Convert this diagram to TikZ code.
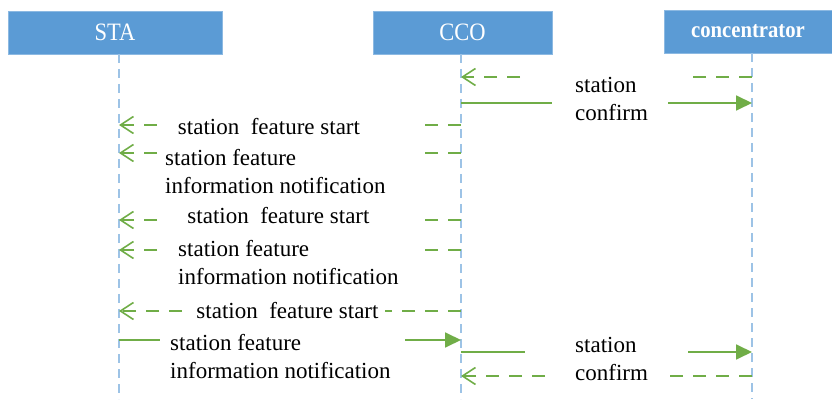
\documentclass[tikz,border=0pt]{standalone}
\usepackage{fontspec}
\setmainfont{Liberation Serif}
\newfontfamily\headfont[FakeStretch=0.9]{Liberation Serif}
\usetikzlibrary{positioning,arrows.meta,calc}

\definecolor{boxblue}{HTML}{5B9BD5}
\definecolor{lineblue}{HTML}{9DC3E6}
\definecolor{msggreen}{HTML}{70AD47}

\tikzset{
  entity/.style={fill=boxblue, draw=boxblue!70!white, line width=0.8pt, minimum height=43pt,
    text=white, font=\headfont\fontsize{25}{28}\selectfont},
  lifeline/.style={lineblue, line width=2pt, dash pattern=on 9pt off 6pt},
  reqline/.style={msggreen, line width=1.8pt, dash pattern=on 13pt off 10pt},
  ackline/.style={msggreen, line width=1.8pt},
  opentip/.style={-{Straight Barb[length=13pt,width=17pt,line width=1.6pt]}},
  filltip/.style={-{Triangle[length=16pt,width=15pt]}},
  msg/.style={font=\fontsize{23}{28}\selectfont, align=left, inner sep=0pt}
}

\begin{document}
\begin{tikzpicture}[x=1pt,y=1pt]
        \useasboundingbox (0,0) rectangle (832,399);

        % entities
        \node[entity, minimum width=214pt] (sta) at (115,366.5) {STA};
        \node[entity, minimum width=179pt] (cco) at (462.5,366.5) {CCO};
        \node[entity, minimum width=168pt, font=\headfont\bfseries\fontsize{23}{26}\selectfont] (conc) at (748,367.5) {concentrator};

        % lifelines
        \coordinate (staTop) at (119,345);
        \coordinate (staEnd) at (119,0);
        \coordinate (ccoTop) at (461,345);
        \coordinate (ccoEnd) at (461,0);
        \coordinate (concTop) at (752,346);
        \coordinate (concEnd) at (752,0);
        \draw[lifeline] (staTop) -- (staEnd);
        \draw[lifeline] (ccoTop) -- (ccoEnd);
        \draw[lifeline] (concTop) -- (concEnd);

        \foreach \n/\y in {1/322,2/296,3/274,4/246,5/179,6/149,7/88,8/59,9/47,10/23}{
          \coordinate (s\n) at (119,\y);
          \coordinate (c\n) at (461,\y);
          \coordinate (k\n) at (752,\y);
        }

        % concentrator <-> CCO
        \draw[reqline] (k1) -- ++(-62,0);
        \draw[reqline,opentip] ($(c1)+(59,0)$) -- (c1);
        \draw[ackline] (c2) -- ++(91,0);
        \draw[ackline,filltip] ($(k2)-(84,0)$) -- (k2);
        \node[msg, anchor=west] (conf1) at (575,300) {station\\confirm};

        % CCO -> STA
        \draw[reqline] (c3) -- ++(-41,0);
        \draw[reqline,opentip] ($(s3)+(38,0)$) -- (s3);
        \node[msg] (start1) at (269,272) {station~~feature start};

        \draw[reqline] (c4) -- ++(-41,0);
        \draw[reqline,opentip] ($(s4)+(38,0)$) -- (s4);
        \node[msg, anchor=west] (info1) at (165,227.5) {station feature\\information notification};

        \draw[reqline] (c5) -- ++(-41,0);
        \draw[reqline,opentip] ($(s5)+(38,0)$) -- (s5);
        \node[msg] (start2) at (278.5,183) {station~~feature start};

        \draw[reqline] (c6) -- ++(-41,0);
        \draw[reqline,opentip] ($(s6)+(38,0)$) -- (s6);
        \node[msg, anchor=west] (info2) at (178,136.5) {station feature\\information notification};

        \draw[reqline] (c7) -- ++(-76,0);
        \draw[reqline,opentip] ($(s7)+(63,0)$) -- (s7);
        \node[msg] (start3) at (287.5,88) {station~~feature start};

        % STA -> CCO
        \draw[ackline] (s8) -- ++(41,0);
        \draw[ackline,filltip] ($(c8)-(56,0)$) -- (c8);
        \node[msg, anchor=west] (info3) at (170,42.5) {station feature\\information notification};

        % CCO <-> concentrator
        \draw[ackline] (c9) -- ++(64,0);
        \draw[ackline,filltip] ($(k9)-(64,0)$) -- (k9);
        \draw[reqline] (k10) -- ++(-87,0);
        \draw[reqline,opentip] ($(c10)+(84,0)$) -- (c10);
        \node[msg, anchor=west] (conf2) at (575,40.5) {station\\confirm};

\end{tikzpicture}
\end{document}
